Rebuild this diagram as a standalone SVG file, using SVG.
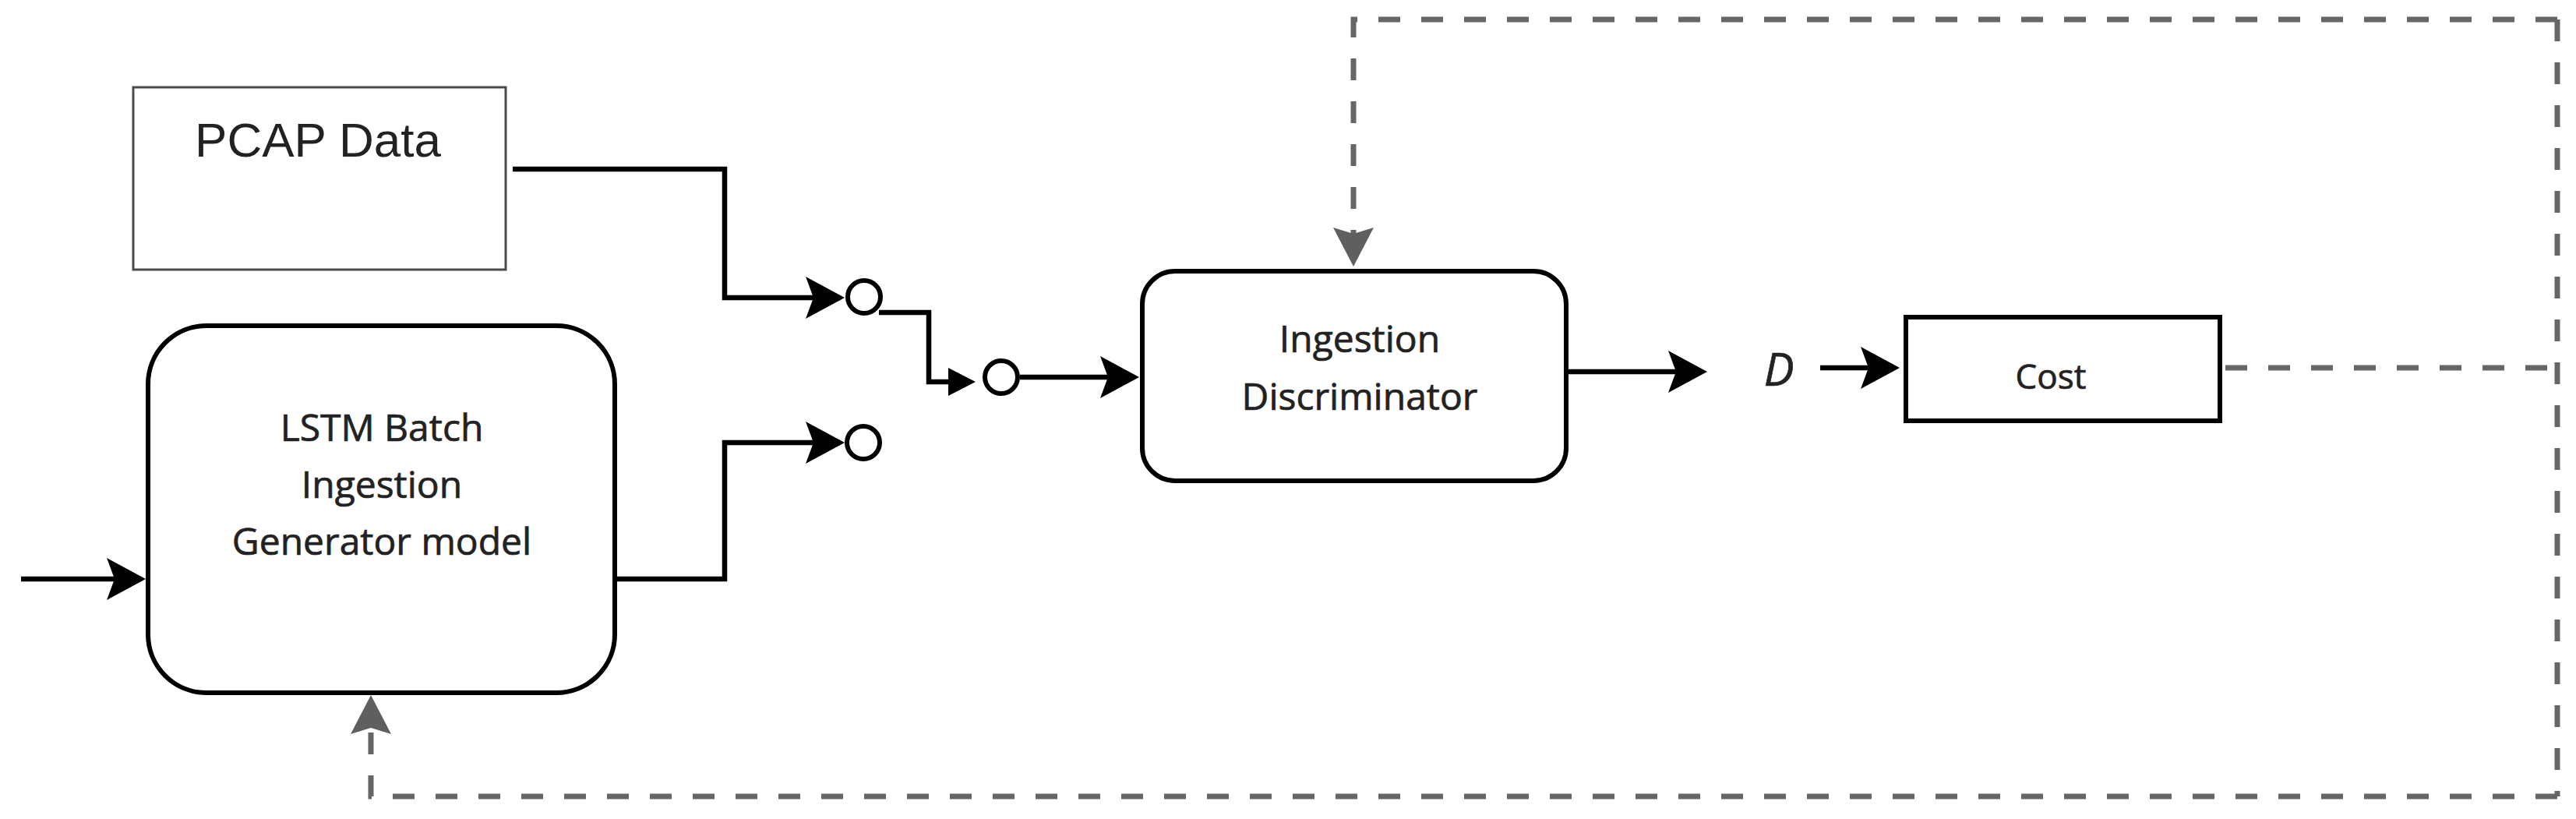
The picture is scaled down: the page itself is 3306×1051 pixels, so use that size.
<svg xmlns="http://www.w3.org/2000/svg" width="3306" height="1051" viewBox="0 0 3306 1051">
  <style>
    .box { fill: #ffffff; stroke: #000000; stroke-width: 6; }
    .thin { fill: #ffffff; stroke: #4a4a4a; stroke-width: 3; }
    .lbl { font-family: "Open Sans", "Noto Sans", sans-serif; fill: #222222; stroke: #222222; stroke-width: 0.7; text-anchor: middle; }
    .wire { fill: none; stroke: #000000; stroke-width: 6.5; }
    .dash { fill: none; stroke: #666666; stroke-width: 7; stroke-dasharray: 28 27; }
    .port { fill: #ffffff; stroke: #000000; stroke-width: 6; }
  </style>
  <defs>
    <marker id="ah" markerUnits="userSpaceOnUse" viewBox="-52 -30 54 60" markerWidth="54" markerHeight="60" refX="-38" refY="0" orient="auto" overflow="visible">
      <path d="M0,0 L-50,-27 L-40,0 L-50,27 Z" fill="#000000"/>
    </marker>
    <marker id="ahs" markerUnits="userSpaceOnUse" viewBox="-37 -20 39 40" markerWidth="39" markerHeight="40" refX="-33" refY="0" orient="auto" overflow="visible">
      <path d="M0,0 L-35,-18 L-35,18 Z" fill="#000000"/>
    </marker>
    <marker id="ahg" markerUnits="userSpaceOnUse" viewBox="-52 -30 54 60" markerWidth="54" markerHeight="60" refX="-38" refY="0" orient="auto" overflow="visible">
      <path d="M0,0 L-50,-26 L-42,0 L-50,26 Z" fill="#5f5f5f"/>
    </marker>
  </defs>

  <rect width="3306" height="1051" fill="#ffffff"/>

  <g id="connectors">
    <path class="wire" d="M27,743 H149" marker-end="url(#ah)"/>
    <path class="wire" d="M792,743 H930 V568 H1046" marker-end="url(#ah)"/>
    <path class="wire" d="M658,217 H930 V382 H1046" marker-end="url(#ah)"/>
    <path class="wire" d="M1128,401 H1192 V490 H1219" marker-end="url(#ahs)"/>
    <path class="wire" d="M1309,484 H1424" marker-end="url(#ah)"/>
    <path class="wire" d="M2013,477 H2153" marker-end="url(#ah)"/>
    <path class="wire" d="M2336,472 H2400" marker-end="url(#ah)"/>

    <path class="dash" d="M2856,472 H3282"/>
    <path class="dash" d="M3282,25 V1022"/>
    <path class="dash" d="M3282,25 H1737 V304" marker-end="url(#ahg)"/>
    <path class="dash" d="M3282,1022 H476 V930" marker-end="url(#ahg)"/>
  </g>

  <g id="switch-in-top">
    <circle class="port" cx="1109" cy="381" r="21"/>
  </g>
  <g id="switch-in-bottom">
    <circle class="port" cx="1108" cy="568" r="21"/>
  </g>
  <g id="switch-out">
    <circle class="port" cx="1285" cy="484" r="21"/>
  </g>

  <g id="pcap-data">
    <rect class="thin" x="171" y="112" width="478" height="234"/>
    <text x="408" y="201" font-family="'Liberation Sans', Arial, sans-serif" font-size="62" fill="#222222" text-anchor="middle">PCAP Data</text>
  </g>

  <g id="lstm-generator">
    <rect class="box" x="190" y="418" width="599" height="471" rx="75" ry="75"/>
    <text class="lbl" x="490" y="566" font-size="48">LSTM Batch</text>
    <text class="lbl" x="490" y="639" font-size="48">Ingestion</text>
    <text class="lbl" x="490" y="712" font-size="48">Generator model</text>
  </g>

  <g id="ingestion-discriminator">
    <rect class="box" x="1466" y="348" width="544" height="269" rx="42" ry="42"/>
    <text class="lbl" x="1745" y="452" font-size="48">Ingestion</text>
    <text class="lbl" x="1745" y="526" font-size="48">Discriminator</text>
  </g>

  <g id="d-label">
    <text class="lbl" x="2283" y="495" font-size="58" font-style="italic" stroke-width="1.5">D</text>
  </g>

  <g id="cost">
    <rect class="box" x="2446" y="407" width="403" height="133"/>
    <text class="lbl" x="2632" y="499" font-size="44">Cost</text>
  </g>
</svg>
